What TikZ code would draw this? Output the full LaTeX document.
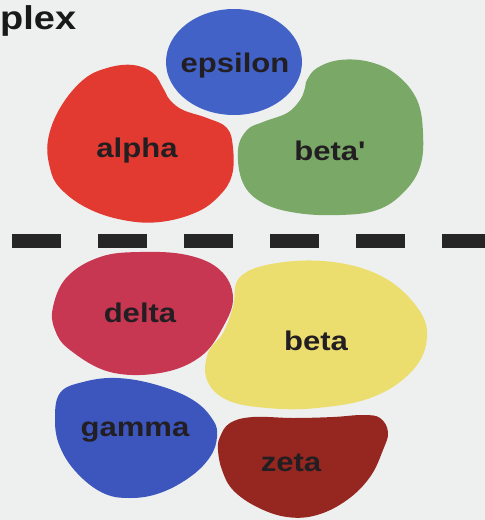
\documentclass[tikz,border=0pt]{standalone}
\usepackage{fontspec}
\newfontfamily\lblfont{Liberation Sans}[FakeStretch=1.15]
\definecolor{paper}{RGB}{238,240,240}
\definecolor{epscol}{RGB}{66,98,200}
\definecolor{alphacol}{RGB}{226,58,48}
\definecolor{betapcol}{RGB}{122,168,102}
\definecolor{deltacol}{RGB}{200,55,82}
\definecolor{betacol}{RGB}{236,222,110}
\definecolor{gammacol}{RGB}{60,86,190}
\definecolor{zetacol}{RGB}{150,38,32}
\definecolor{ink}{RGB}{34,30,34}
\begin{document}
\begin{tikzpicture}[x=1pt,y=-1pt,
  blob/.style={smooth cycle,tension=0.65},
  lbl/.style={anchor=base,inner sep=0pt,text=ink,font=\lblfont\bfseries\fontsize{27}{30}\selectfont},
  title/.style={anchor=base west,inner sep=0pt,text=black!90,font=\lblfont\bfseries\fontsize{33}{36}\selectfont}]
\useasboundingbox (0,0) rectangle (485,520);
\fill[paper] (0,0) rectangle (485,520);

% heading fragment
\node[title] (head) at (0,29) {plex};

% upper subunits
\fill[epscol] (234,62) ellipse [x radius=68, y radius=53];
\fill[alphacol] plot[blob] coordinates {(60,108) (83,80) (107,68) (133,65) (153,73) (163,88)
  (170,100) (183,110) (207,118) (227,128) (233,148) (232,175) (220,195) (197,212) (160,222)
  (123,220) (87,208) (60,188) (50,168) (48,140)};
\fill[betapcol] plot[blob] coordinates {(307,80) (317,68) (340,60) (370,62) (397,75) (417,100)
  (423,133) (420,167) (403,193) (377,210) (340,215) (297,213) (263,203) (243,183) (238,150)
  (247,130) (263,122) (287,113) (300,100) (305,88)};

% dividing line
\coordinate (divL) at (12,241);
\coordinate (divR) at (490,241);
\draw[line width=14pt,dash pattern=on 49pt off 37pt,black!85] (divL) -- (divR);

% lower subunits
\fill[deltacol] plot[blob] coordinates {(53,307) (67,277) (100,257) (140,252) (187,255) (220,270)
  (233,297) (223,327) (200,357) (160,373) (110,372) (70,350) (55,330)};
\fill[betacol] plot[blob] coordinates {(240,277) (277,263) (333,262) (383,277) (417,307) (427,337)
  (413,370) (373,397) (317,408) (267,408) (227,400) (207,380) (208,353) (223,333) (233,307)};
\fill[gammacol] plot[blob] coordinates {(60,393) (83,382) (117,378) (157,385) (193,400) (213,420)
  (217,437) (210,457) (190,477) (160,493) (130,498) (103,493) (77,473) (60,447) (55,420)};
\fill[zetacol] plot[blob] coordinates {(220,437) (230,423) (253,417) (293,418) (333,417) (363,415)
  (380,418) (388,432) (383,450) (370,477) (347,500) (317,515) (287,517) (257,507) (233,490)
  (222,470) (218,450)};

% labels
\node[lbl] (eps) at (235,72) {epsilon};
\node[lbl] (alpha) at (137,157) {alpha};
\node[lbl] (betap) at (330,160) {beta'};
\node[lbl] (delta) at (140,322) {delta};
\node[lbl] (beta) at (316,350) {beta};
\node[lbl] (gamma) at (135,436) {gamma};
\node[lbl] (zeta) at (291,471) {zeta};
\end{tikzpicture}
\end{document}
